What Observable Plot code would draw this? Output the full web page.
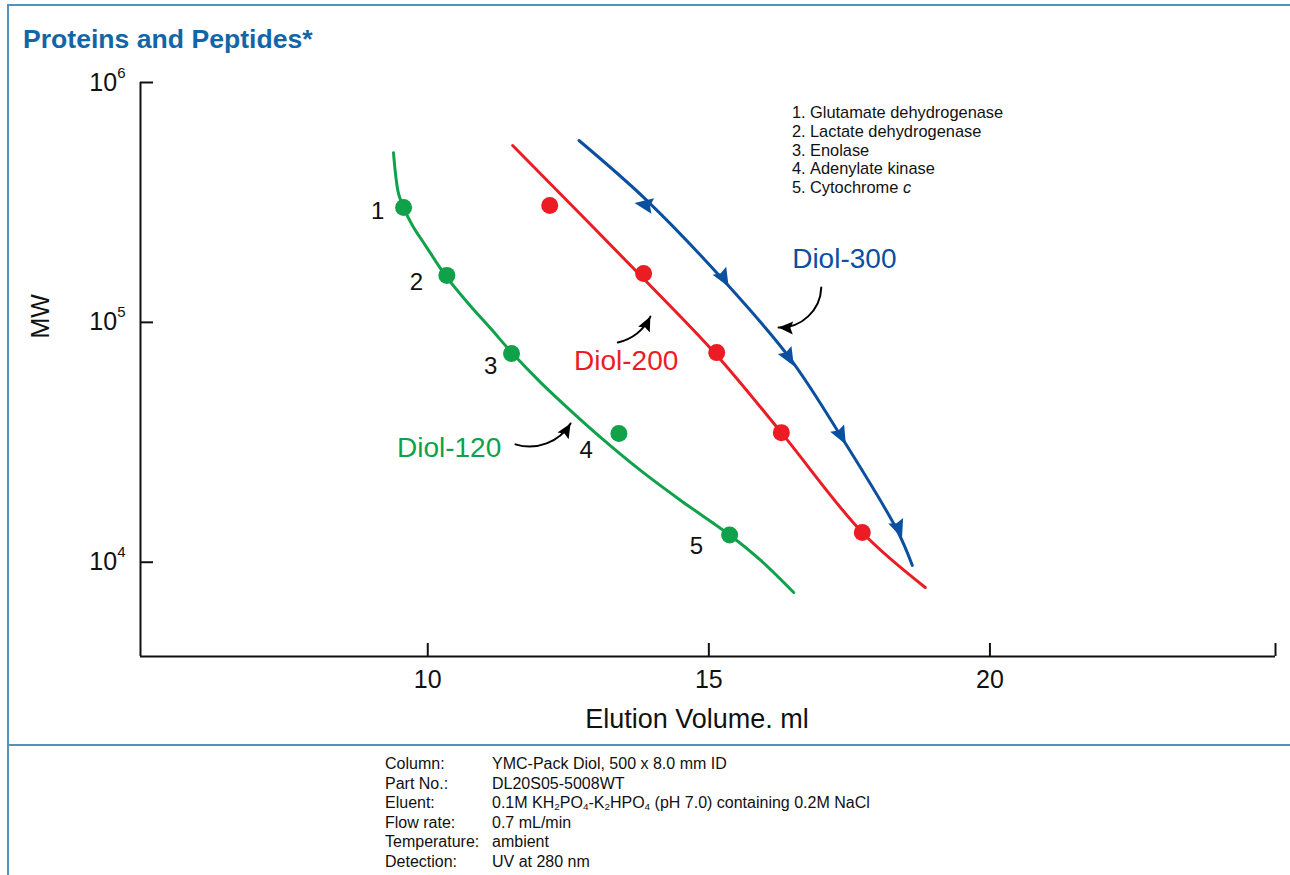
<!DOCTYPE html>
<html>
<head>
<meta charset="utf-8">
<script src="https://cdn.jsdelivr.net/npm/d3@7"></script>
<script src="https://cdn.jsdelivr.net/npm/@observablehq/plot@0.6"></script>
<style>
  html, body { margin: 0; padding: 0; background: #fff; }
  body { width: 1290px; height: 875px; position: relative; overflow: hidden; font-family: "Liberation Sans", Arial, Helvetica, sans-serif; }
  #chart { position: absolute; left: 0; top: 0; }
  .bline { position: absolute; background: #4f93c4; }
  #title { position: absolute; left: 23px; top: 26px; font-size: 26.6px; line-height: 26px; font-weight: bold; color: #1266a8; white-space: nowrap; }
  #legend { position: absolute; left: 792px; top: 103px; font-size: 16.4px; line-height: 18.8px; color: #111; white-space: nowrap; }
  #legend span.n { display: inline-block; width: 18px; }
  #footer { position: absolute; left: 385px; top: 754px; font-size: 16px; line-height: 19.6px; color: #111; white-space: nowrap; }
  #footer span.k { display: inline-block; width: 107px; }
  #footer sub { font-size: 0.62em; vertical-align: -0.25em; line-height: 0; }
</style>
</head>
<body>
<div id="chart"></div>
<div class="bline" style="left:7px;top:4px;width:2px;height:871px"></div>
<div class="bline" style="left:7px;top:4px;right:0;height:2px"></div>
<div class="bline" style="left:7px;top:744px;right:0;height:2px"></div>
<div id="title">Proteins and Peptides*</div>
<div id="legend"></div>
<div id="footer"></div>
<script>
// ---------- data ----------
const xDomain = [4.89, 25.08];
const yDomain = [4046, 1e6];
const xTicks = [10, 15, 20];
const yTicks = [1e4, 1e5, 1e6];

const proteins = ["Glutamate dehydrogenase", "Lactate dehydrogenase", "Enolase", "Adenylate kinase", "Cytochrome c"];

// Diol-120 (green)
const g120CurveX = [9.39, 9.43, 9.48, 9.57, 9.73, 9.96, 10.33, 10.76, 11.12, 11.51, 12.01, 12.54, 13.08, 13.79, 14.50, 15.39, 15.92, 16.51];
const g120CurveY = [510000, 409000, 344000, 301000, 253000, 209000, 155000, 117000, 94200, 74100, 56100, 42900, 33100, 24100, 18100, 12900, 10200, 7480];
const g120PointX = [9.57, 10.34, 11.49, 13.40, 15.37];
const g120PointY = [301000, 157000, 74100, 34400, 13000];

// Diol-200 (red)
const d200CurveX = [11.51, 13.84, 15.14, 16.29, 17.73, 18.85];
const d200CurveY = [546000, 152000, 73000, 34700, 13300, 7850];
const d200PointX = [12.17, 13.84, 15.14, 16.29, 17.73];
const d200PointY = [307000, 160000, 74800, 34700, 13300];

// Diol-300 (blue)
const d300CurveX = [12.69, 13.90, 15.27, 16.45, 17.40, 18.35, 18.62];
const d300CurveY = [573000, 322000, 149000, 70500, 32100, 13600, 9700];
const d300PointX = [13.84, 15.27, 16.43, 17.36, 18.38];
const d300PointY = [310000, 152000, 71000, 33500, 13700];
const d300PointAngle = [-80, 150, 150, 152, 160];

// peak number labels
const numLabels = ["1", "2", "3", "4", "5"];
const numLabelX = [9.11, 9.80, 11.12, 12.82, 14.78];
const numLabelY = [290000, 146600, 65400, 29200, 11600];

// column labels
const colNames = ["Diol-120", "Diol-200", "Diol-300"];
const colLabelX = [10.38, 13.53, 17.41];
const colLabelY = [29800, 69300, 183000];
const colColors = ["#10a14b", "#ec1c24", "#0b4f9f"];

// annotation arrows (from label to curve)
const arrowX1 = [11.56, 13.38, 17.00];
const arrowY1 = [31000, 82400, 139700];
const arrowX2 = [12.54, 13.96, 16.24];
const arrowY2 = [37900, 105700, 95200];
const arrowBend = [-38, -25, 45];

const footerKeys = ["Column:", "Part No.:", "Eluent:", "Flow rate:", "Temperature:", "Detection:"];
const footerVals = ["YMC-Pack Diol, 500 x 8.0 mm ID", "DL20S05-5008WT",
  "0.1M KH<sub>2</sub>PO<sub>4</sub>-K<sub>2</sub>HPO<sub>4</sub> (pH 7.0) containing 0.2M NaCl",
  "0.7 mL/min", "ambient", "UV at 280 nm"];

// ---------- build ----------
const zip = (xs, ys) => xs.map((x, i) => ({x, y: ys[i], i}));
const g120Curve = zip(g120CurveX, g120CurveY), g120Pts = zip(g120PointX, g120PointY);
const d200Curve = zip(d200CurveX, d200CurveY), d200Pts = zip(d200PointX, d200PointY);
const d300Curve = zip(d300CurveX, d300CurveY), d300Pts = zip(d300PointX, d300PointY).map((d, i) => ({...d, a: d300PointAngle[i]}));
const nums = numLabels.map((t, i) => ({t, x: numLabelX[i], y: numLabelY[i]}));
const cols = colNames.map((t, i) => ({t, x: colLabelX[i], y: colLabelY[i], c: colColors[i]}));
const arrowData = arrowX1.map((x1, i) => ({x1, y1: arrowY1[i], x2: arrowX2[i], y2: arrowY2[i], bend: arrowBend[i]}));

// centred notched arrowhead (blue markers)
const markerHead = {
  draw(ctx, size) {
    const s = Math.sqrt(size) * 0.55;
    ctx.moveTo(0, -s);
    ctx.lineTo(0.85 * s, s);
    ctx.lineTo(0, 0.7 * s);
    ctx.lineTo(-0.85 * s, s);
    ctx.closePath();
  }
};
// arrowhead with its tip at the origin (annotation arrows)
const tipHead = {
  draw(ctx, size) {
    const L = Math.sqrt(size) * 1.2;
    ctx.moveTo(0, 0);
    ctx.lineTo(0.45 * L, L);
    ctx.lineTo(0, 0.82 * L);
    ctx.lineTo(-0.45 * L, L);
    ctx.closePath();
  }
};

function build(extra) {
  return Plot.plot({
    width: 1290,
    height: 745,
    marginLeft: 140,
    marginRight: 15,
    marginTop: 82,
    marginBottom: 89,
    style: {fontFamily: "'Liberation Sans', Arial, Helvetica, sans-serif", fontSize: "25px", color: "#111", background: "transparent", maxWidth: "none", overflow: "visible"},
    x: {domain: xDomain, label: null},
    y: {type: "log", domain: yDomain, label: null},
    marks: [
      Plot.ruleX([xDomain[0]], {strokeWidth: 2, stroke: "#111"}),
      Plot.ruleY([yDomain[0]], {strokeWidth: 2, stroke: "#111"}),
      Plot.axisX([...xTicks, xDomain[1]], {tickSize: -13, tickPadding: 27, strokeWidth: 2, fontSize: 25, tickFormat: d => xTicks.includes(d) ? String(d) : "", label: null}),
      Plot.axisY(yTicks, {tickSize: -13, tickPadding: 28, strokeWidth: 2, fontSize: 25, tickFormat: d => "10^" + Math.round(Math.log10(d)), label: null}),
      Plot.text(["Elution Volume. ml"], {frameAnchor: "bottom", dx: -11, dy: 71, fontSize: 27, fill: "#111"}),
      Plot.text(["MW"], {frameAnchor: "left", dx: -100, dy: -31, rotate: -90, fontSize: 25, fill: "#111"}),
      Plot.line(g120Curve, {x: "x", y: "y", stroke: colColors[0], strokeWidth: 3, curve: "catmull-rom"}),
      Plot.line(d200Curve, {x: "x", y: "y", stroke: colColors[1], strokeWidth: 3, curve: "catmull-rom"}),
      Plot.line(d300Curve, {x: "x", y: "y", stroke: colColors[2], strokeWidth: 3, curve: "catmull-rom"}),
      Plot.dot(g120Pts, {x: "x", y: "y", r: 8.5, fill: colColors[0]}),
      Plot.dot(d200Pts, {x: "x", y: "y", r: 8.5, fill: colColors[1]}),
      Plot.dot(d300Pts, {x: "x", y: "y", r: 9.5, fill: colColors[2], symbol: markerHead, rotate: "a"}),
      Plot.text(nums, {x: "x", y: "y", text: "t", fontSize: 24, fill: "#111"}),
      Plot.text(cols, {x: "x", y: "y", text: "t", fontSize: 28, fill: "c"}),
      ...arrowData.map(d => Plot.arrow([d], {x1: "x1", y1: "y1", x2: "x2", y2: "y2", bend: d.bend, stroke: "#000", strokeWidth: 2, headLength: 0})),
      ...extra
    ]
  });
}

// first pass to read the scales, then place filled heads at the arrow tips
const probe = build([]);
const sx = probe.scale("x"), sy = probe.scale("y");
const heads = arrowData.map(d => {
  const px1 = sx.apply(d.x1), py1 = sy.apply(d.y1), px2 = sx.apply(d.x2), py2 = sy.apply(d.y2);
  const ang = Math.atan2(py2 - py1, px2 - px1) + d.bend * Math.PI / 180;
  return {x: d.x2, y: d.y2, a: ang * 180 / Math.PI + 90};
});
const svg = build([Plot.dot(heads, {x: "x", y: "y", r: 6.8, fill: "#000", symbol: tipHead, rotate: "a"})]);

// superscript exponents on the y tick labels
d3.select(svg).selectAll('g[aria-label="y-axis tick label"] text').each(function() {
  const t = this.textContent;
  if (!t.includes("^")) return;
  const [b, e] = t.split("^");
  this.textContent = b;
  d3.select(this).append("tspan").attr("dy", -13).attr("font-size", 15).text(e);
});

document.getElementById("chart").appendChild(svg);

// legend
document.getElementById("legend").innerHTML = proteins.map((p, i) => {
  const txt = p === "Cytochrome c" ? "Cytochrome <i>c</i>" : p;
  return `<div><span class="n">${i + 1}.</span>${txt}</div>`;
}).join("");

// footer
document.getElementById("footer").innerHTML = footerKeys.map((k, i) =>
  `<div><span class="k">${k}</span>${footerVals[i]}</div>`).join("");
</script>
</body>
</html>
